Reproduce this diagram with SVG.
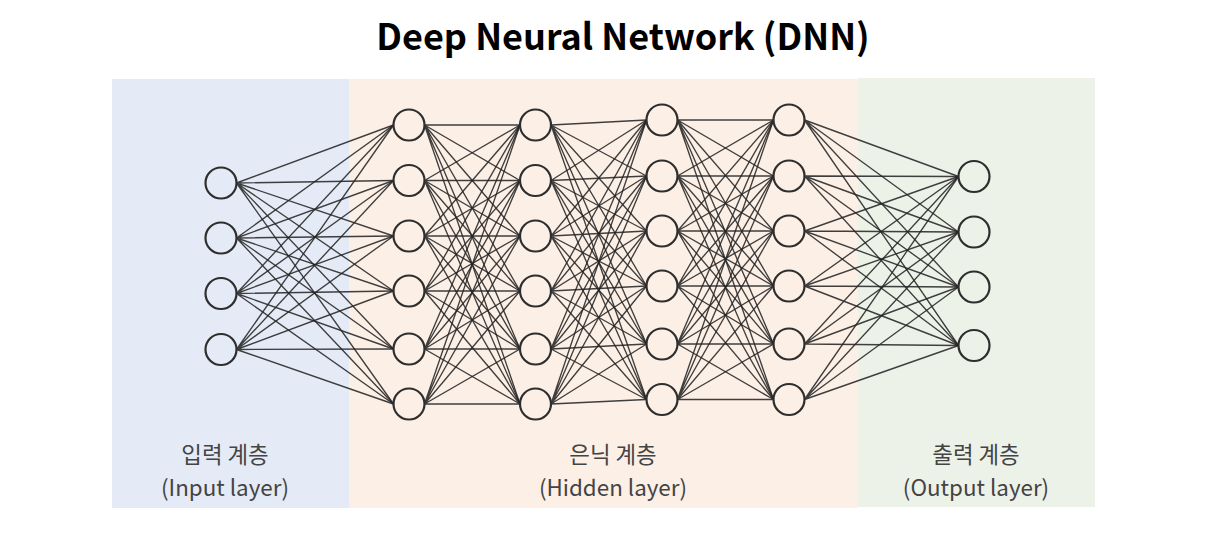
<svg xmlns="http://www.w3.org/2000/svg" width="1214" height="541" viewBox="0 0 1214 541">
<style>
.bg-in{fill:#e5ebf6}
.bg-hid{fill:#fcefe6}
.bg-out{fill:#edf2e9}
.node{fill:none;stroke:#2e2e2e;stroke-width:2.2}
.conn{fill:none;stroke:#262626;stroke-opacity:0.88;stroke-width:1.35}
.title{font-family:"Noto Sans CJK KR","Noto Sans",sans-serif;font-weight:bold;font-size:36px;fill:#000;text-anchor:middle}
.lbl{font-family:"Noto Sans CJK KR","Noto Sans",sans-serif;font-size:22.4px;fill:#444;text-anchor:middle}
</style>
<rect width="1214" height="541" fill="#fff"/>
<g id="backgrounds">
<rect class="bg-in" x="112" y="79" width="237" height="429"/>
<rect class="bg-hid" x="349" y="79" width="509" height="429"/>
<rect class="bg-out" x="858" y="78" width="237" height="429"/>
</g>
<text class="title" x="623" y="50">Deep Neural Network (DNN)</text>
<g id="connectors" class="conn">
<path d="M236.5 183L393.5 125M236.5 183L393.5 180.5M236.5 183L393.5 236M236.5 183L393.5 291M236.5 183L393.5 349M236.5 183L393.5 404"/>
<path d="M236.5 238L393.5 125M236.5 238L393.5 180.5M236.5 238L393.5 236M236.5 238L393.5 291M236.5 238L393.5 349M236.5 238L393.5 404"/>
<path d="M236.5 293.5L393.5 125M236.5 293.5L393.5 180.5M236.5 293.5L393.5 236M236.5 293.5L393.5 291M236.5 293.5L393.5 349M236.5 293.5L393.5 404"/>
<path d="M236.5 349.5L393.5 125M236.5 349.5L393.5 180.5M236.5 349.5L393.5 236M236.5 349.5L393.5 291M236.5 349.5L393.5 349M236.5 349.5L393.5 404"/>
<path d="M424.5 125L520 125M424.5 125L520 180.5M424.5 125L520 236M424.5 125L520 291M424.5 125L520 349M424.5 125L520 404"/>
<path d="M424.5 180.5L520 125M424.5 180.5L520 180.5M424.5 180.5L520 236M424.5 180.5L520 291M424.5 180.5L520 349M424.5 180.5L520 404"/>
<path d="M424.5 236L520 125M424.5 236L520 180.5M424.5 236L520 236M424.5 236L520 291M424.5 236L520 349M424.5 236L520 404"/>
<path d="M424.5 291L520 125M424.5 291L520 180.5M424.5 291L520 236M424.5 291L520 291M424.5 291L520 349M424.5 291L520 404"/>
<path d="M424.5 349L520 125M424.5 349L520 180.5M424.5 349L520 236M424.5 349L520 291M424.5 349L520 349M424.5 349L520 404"/>
<path d="M424.5 404L520 125M424.5 404L520 180.5M424.5 404L520 236M424.5 404L520 291M424.5 404L520 349M424.5 404L520 404"/>
<path d="M551 125L646.5 120M551 125L646.5 176M551 125L646.5 231M551 125L646.5 286M551 125L646.5 344M551 125L646.5 399.5"/>
<path d="M551 180.5L646.5 120M551 180.5L646.5 176M551 180.5L646.5 231M551 180.5L646.5 286M551 180.5L646.5 344M551 180.5L646.5 399.5"/>
<path d="M551 236L646.5 120M551 236L646.5 176M551 236L646.5 231M551 236L646.5 286M551 236L646.5 344M551 236L646.5 399.5"/>
<path d="M551 291L646.5 120M551 291L646.5 176M551 291L646.5 231M551 291L646.5 286M551 291L646.5 344M551 291L646.5 399.5"/>
<path d="M551 349L646.5 120M551 349L646.5 176M551 349L646.5 231M551 349L646.5 286M551 349L646.5 344M551 349L646.5 399.5"/>
<path d="M551 404L646.5 120M551 404L646.5 176M551 404L646.5 231M551 404L646.5 286M551 404L646.5 344M551 404L646.5 399.5"/>
<path d="M677.5 120L773.5 120M677.5 120L773.5 176M677.5 120L773.5 231M677.5 120L773.5 286M677.5 120L773.5 344M677.5 120L773.5 399.5"/>
<path d="M677.5 176L773.5 120M677.5 176L773.5 176M677.5 176L773.5 231M677.5 176L773.5 286M677.5 176L773.5 344M677.5 176L773.5 399.5"/>
<path d="M677.5 231L773.5 120M677.5 231L773.5 176M677.5 231L773.5 231M677.5 231L773.5 286M677.5 231L773.5 344M677.5 231L773.5 399.5"/>
<path d="M677.5 286L773.5 120M677.5 286L773.5 176M677.5 286L773.5 231M677.5 286L773.5 286M677.5 286L773.5 344M677.5 286L773.5 399.5"/>
<path d="M677.5 344L773.5 120M677.5 344L773.5 176M677.5 344L773.5 231M677.5 344L773.5 286M677.5 344L773.5 344M677.5 344L773.5 399.5"/>
<path d="M677.5 399.5L773.5 120M677.5 399.5L773.5 176M677.5 399.5L773.5 231M677.5 399.5L773.5 286M677.5 399.5L773.5 344M677.5 399.5L773.5 399.5"/>
<path d="M804.5 120L958.5 176.5M804.5 120L958.5 232M804.5 120L958.5 287M804.5 120L958.5 345.5"/>
<path d="M804.5 176L958.5 176.5M804.5 176L958.5 232M804.5 176L958.5 287M804.5 176L958.5 345.5"/>
<path d="M804.5 231L958.5 176.5M804.5 231L958.5 232M804.5 231L958.5 287M804.5 231L958.5 345.5"/>
<path d="M804.5 286L958.5 176.5M804.5 286L958.5 232M804.5 286L958.5 287M804.5 286L958.5 345.5"/>
<path d="M804.5 344L958.5 176.5M804.5 344L958.5 232M804.5 344L958.5 287M804.5 344L958.5 345.5"/>
<path d="M804.5 399.5L958.5 176.5M804.5 399.5L958.5 232M804.5 399.5L958.5 287M804.5 399.5L958.5 345.5"/>
</g>
<g id="input-layer">
<circle class="node" cx="221" cy="183" r="15.5"/>
<circle class="node" cx="221" cy="238" r="15.5"/>
<circle class="node" cx="221" cy="293.5" r="15.5"/>
<circle class="node" cx="221" cy="349.5" r="15.5"/>
<text class="lbl" x="225" y="463">입력 계층</text>
<text class="lbl" x="225" y="495.5">(Input layer)</text>
</g>
<g id="hidden-layer-1">
<circle class="node" cx="409" cy="125" r="15.5"/>
<circle class="node" cx="409" cy="180.5" r="15.5"/>
<circle class="node" cx="409" cy="236" r="15.5"/>
<circle class="node" cx="409" cy="291" r="15.5"/>
<circle class="node" cx="409" cy="349" r="15.5"/>
<circle class="node" cx="409" cy="404" r="15.5"/>
</g>
<g id="hidden-layer-2">
<circle class="node" cx="535.5" cy="125" r="15.5"/>
<circle class="node" cx="535.5" cy="180.5" r="15.5"/>
<circle class="node" cx="535.5" cy="236" r="15.5"/>
<circle class="node" cx="535.5" cy="291" r="15.5"/>
<circle class="node" cx="535.5" cy="349" r="15.5"/>
<circle class="node" cx="535.5" cy="404" r="15.5"/>
</g>
<g id="hidden-layer-3">
<circle class="node" cx="662" cy="120" r="15.5"/>
<circle class="node" cx="662" cy="176" r="15.5"/>
<circle class="node" cx="662" cy="231" r="15.5"/>
<circle class="node" cx="662" cy="286" r="15.5"/>
<circle class="node" cx="662" cy="344" r="15.5"/>
<circle class="node" cx="662" cy="399.5" r="15.5"/>
</g>
<g id="hidden-layer-4">
<circle class="node" cx="789" cy="120" r="15.5"/>
<circle class="node" cx="789" cy="176" r="15.5"/>
<circle class="node" cx="789" cy="231" r="15.5"/>
<circle class="node" cx="789" cy="286" r="15.5"/>
<circle class="node" cx="789" cy="344" r="15.5"/>
<circle class="node" cx="789" cy="399.5" r="15.5"/>
</g>
<g id="hidden-label">
<text class="lbl" x="613" y="463">은닉 계층</text>
<text class="lbl" x="613" y="495.5">(Hidden layer)</text>
</g>
<g id="output-layer">
<circle class="node" cx="974" cy="176.5" r="15.5"/>
<circle class="node" cx="974" cy="232" r="15.5"/>
<circle class="node" cx="974" cy="287" r="15.5"/>
<circle class="node" cx="974" cy="345.5" r="15.5"/>
<text class="lbl" x="976" y="463">출력 계층</text>
<text class="lbl" x="976" y="495.5">(Output layer)</text>
</g>
</svg>
